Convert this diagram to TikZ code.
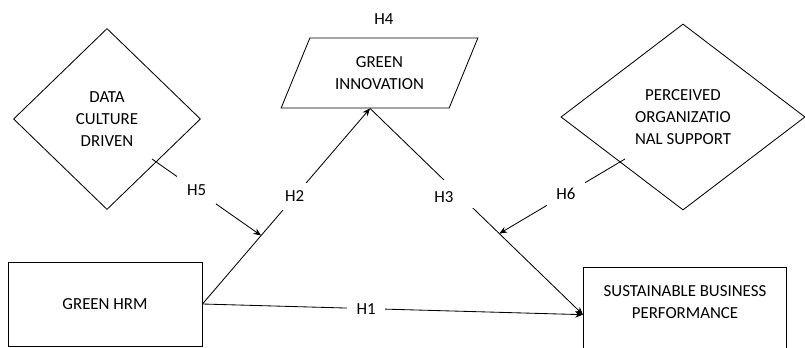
\documentclass[tikz,border=0pt]{standalone}
\usepackage{fontspec}
\setmainfont{Carlito}
\usetikzlibrary{shapes.geometric,calc,arrows.meta}

\begin{document}
\begin{tikzpicture}[x=0.025cm, y=-0.025cm, >={Stealth[length=5.5pt,width=4.5pt]}, line width=0.6pt,
		every node/.style={font=\fontsize{12}{15.6}\selectfont, align=center},
		var/.style={draw, rectangle, inner sep=0pt},
		mod/.style={draw, diamond, inner sep=0pt},
		hyp/.style={fill=white, inner xsep=7pt, inner ysep=6pt}]
	\useasboundingbox (0,0) rectangle (805,348);
	\clip (0,0) rectangle (805,348);
	
	% 变量
	\node[var, minimum width=4.85cm, minimum height=2.1cm] (hrm) at (105,304) {GREEN HRM};
	\node[var, minimum width=5.075cm, minimum height=2.75cm, anchor=north west] (sbp) at (583,267) {};
	\node (sbptxt) at (685,302) {SUSTAINABLE BUSINESS\\PERFORMANCE};
	\node[draw, trapezium, trapezium left angle=61, trapezium right angle=119,
		trapezium stretches, minimum width=4.925cm, minimum height=1.75cm,
		inner sep=0pt] (gi) at (379.5,73) {GREEN\\INNOVATION};
	\node (h4) at (384,19) {H4};
	
	% 调节变量
	\node[mod, minimum width=4.675cm, minimum height=4.525cm] (dcd) at (107,119) {DATA\\CULTURE\\DRIVEN};
	\node[mod, minimum width=6.1cm, minimum height=4.65cm] (perc) at (683,117) {PERCEIVED\\ORGANIZATIO\\NAL SUPPORT};
	
	% 端点
	\coordinate (gib) at ($(gi.bottom left corner)!0.53!(gi.bottom right corner)$);
	\coordinate (sbpw) at ($(sbp.north west)!0.43!(sbp.south west)$);
	\coordinate (h5s) at (152,159);
	\coordinate (h6s) at (625,159);
	\coordinate (h5e) at ($(hrm.east)!0.35!(gib)$);
	\coordinate (h6e) at ($(gib)!0.607!(sbpw)$);
	
	% 假设路径
	\draw[->] (hrm.east) -- node[hyp, pos=0.43] (h1) {H1} (sbpw);
	\draw[->] (hrm.east) -- node[hyp, pos=0.55] (h2) {H2} (gib);
	\draw[->] (gib) -- node[hyp, pos=0.417] (h3gap) {\phantom{H3}}
		node[pos=0.417, xshift=-0.375cm, yshift=-0.075cm] (h3) {H3} (sbpw);
	\draw[->] (h5s) -- node[hyp, pos=0.41] (h5) {H5} (h5e);
	\draw[->] (h6s) -- node[hyp, pos=0.47] (h6) {H6} (h6e);
\end{tikzpicture}
\end{document}
